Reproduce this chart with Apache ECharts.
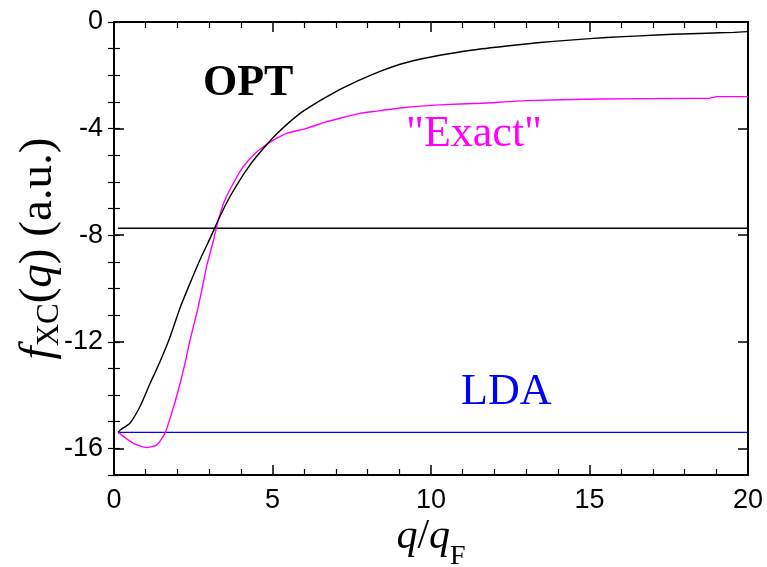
<!DOCTYPE html>
<html>
<head>
<meta charset="utf-8">
<script src="https://cdn.jsdelivr.net/npm/echarts@6/dist/echarts.min.js"></script>
<style>
  html, body { margin: 0; padding: 0; background: #fff; }
  #chart { width: 767px; height: 567px; }
</style>
</head>
<body>
<div id="chart"></div>
<script>
// OPT kernel f_xc(q)
const qOpt = [0.13, 0.21, 0.5, 0.82, 1.14, 1.45, 1.77, 2.08, 2.4, 2.71, 3.03, 3.34, 3.66, 3.97, 4.3, 4.71, 5.13, 5.87, 6.5, 7.02, 7.44, 7.76, 8.39, 9.23, 10.28, 11.33, 12.39, 13.44, 14.49, 15.54, 16.59, 17.64, 18.7, 19.54, 20];
const fOpt = [-15.4, -15.3, -15.06, -14.43, -13.56, -12.75, -11.81, -10.74, -9.8, -8.93, -8.12, -7.3, -6.55, -5.93, -5.35, -4.75, -4.2, -3.43, -2.95, -2.6, -2.35, -2.17, -1.85, -1.52, -1.25, -1.05, -0.9, -0.77, -0.67, -0.58, -0.52, -0.46, -0.42, -0.39, -0.36];

// "Exact" kernel f_xc(q)
const qExact = [0.13, 0.61, 1.03, 1.35, 1.61, 1.82, 2.03, 2.24, 2.4, 2.61, 2.77, 2.92, 3.14, 3.29, 3.5, 3.82, 4.08, 4.4, 4.71, 5.03, 5.45, 6.08, 6.71, 7.13, 7.76, 8.18, 9.23, 10.28, 11.55, 13.02, 15.23, 18.8, 19.01, 20];
const fExact = [-15.4, -15.81, -15.97, -15.87, -15.43, -14.68, -13.81, -12.81, -11.93, -10.93, -10.06, -9.18, -8.18, -7.43, -6.68, -5.93, -5.43, -4.99, -4.68, -4.43, -4.18, -3.99, -3.74, -3.61, -3.43, -3.36, -3.2, -3.11, -3.05, -2.95, -2.89, -2.86, -2.8, -2.8];

// constant levels: LDA and the black reference line
const qFlat = [0.13, 20];
const fLda = -15.4;
const fRef = -7.74;

// axis ticks
const xMajor = [0, 5, 10, 15, 20];
const yMajor = [-16, -12, -8, -4, 0];

const zip = (xs, ys) => xs.map((x, i) => [x, ys[i]]);
const flat = (xs, y) => xs.map(x => [x, y]);

const serif = 'Liberation Serif';
const sans = 'Liberation Sans';

// rich styles for axis names; the subscript sits in a taller line box so its
// centre falls `drop` pixels below the centre of the main glyphs
function nameRich(size, sub, drop) {
  return {
    i: { fontFamily: serif, fontStyle: 'italic', fontSize: size, lineHeight: size, verticalAlign: 'top', color: '#000' },
    n: { fontFamily: serif, fontSize: size, lineHeight: size, verticalAlign: 'top', color: '#000' },
    s: { fontFamily: serif, fontSize: sub, lineHeight: size + 2 * drop, verticalAlign: 'middle', color: '#000' }
  };
}

const frameLine = { show: true, onZero: false, lineStyle: { color: '#000', width: 2 } };
const majorTick = { show: true, inside: true, length: 10, lineStyle: { color: '#000', width: 1.5 } };
const minorTickStyle = { color: '#000', width: 1.2 };

const chart = echarts.init(document.getElementById('chart'), null, { renderer: 'canvas' });

chart.setOption({
  animation: false,
  backgroundColor: '#fff',
  grid: { left: 114, right: 19, top: 22, bottom: 92, containLabel: false, outerBoundsMode: 'none' },
  xAxis: [
    {
      type: 'value', position: 'bottom', min: 0, max: 20, interval: 5,
      axisLine: frameLine,
      axisTick: majorTick,
      minorTick: { show: true, splitNumber: 5, length: 6, lineStyle: minorTickStyle },
      axisLabel: { fontFamily: sans, fontSize: 27, color: '#000', margin: 12 },
      splitLine: { show: false },
      name: '{i|q}{n|/}{i|q}{s|F}',
      nameLocation: 'middle',
      nameGap: 41,
      nameMoveOverlap: false,
      nameTextStyle: { rich: nameRich(42, 28, 20) }
    },
    {
      type: 'value', position: 'top', min: 0, max: 20, interval: 5,
      axisLine: frameLine,
      axisTick: majorTick,
      minorTick: { show: true, splitNumber: 5, length: 6, lineStyle: minorTickStyle },
      axisLabel: { show: false },
      splitLine: { show: false }
    }
  ],
  yAxis: [
    {
      type: 'value', position: 'left', min: -17, max: 0,
      axisLine: frameLine,
      axisTick: Object.assign({}, majorTick, { customValues: yMajor }),
      axisLabel: { customValues: yMajor, fontFamily: sans, fontSize: 27, color: '#000', margin: 11 },
      splitLine: { show: false },
      name: '{i|f}{s|XC}{n|(}{i|q}{n|) (a.u.)}',
      nameLocation: 'middle',
      nameRotate: 90,
      nameGap: 30,
      nameMoveOverlap: false,
      nameTextStyle: { rich: nameRich(47, 31, 11) }
    },
    {
      type: 'value', position: 'left', min: -17, max: 0, interval: 1,
      axisLine: { show: false },
      axisTick: { show: true, inside: true, length: 6, lineStyle: minorTickStyle },
      axisLabel: { show: false },
      splitLine: { show: false }
    },
    {
      type: 'value', position: 'right', min: -17, max: 0,
      axisLine: frameLine,
      axisTick: Object.assign({}, majorTick, { customValues: yMajor }),
      axisLabel: { show: false },
      splitLine: { show: false }
    },
    {
      type: 'value', position: 'right', min: -17, max: 0, interval: 1,
      axisLine: { show: false },
      axisTick: { show: true, inside: true, length: 6, lineStyle: minorTickStyle },
      axisLabel: { show: false },
      splitLine: { show: false }
    }
  ],
  series: [
    {
      name: 'LDA', type: 'line', xAxisIndex: 0, yAxisIndex: 0,
      data: flat(qFlat, fLda), symbol: 'none',
      lineStyle: { color: '#0000ff', width: 1.4 }
    },
    {
      name: 'ref', type: 'line', xAxisIndex: 0, yAxisIndex: 0,
      data: flat(qFlat, fRef), symbol: 'none',
      lineStyle: { color: '#000', width: 1.4 }
    },
    {
      name: 'Exact', type: 'line', xAxisIndex: 0, yAxisIndex: 0,
      data: zip(qExact, fExact), symbol: 'none', smooth: 0.2,
      lineStyle: { color: '#ff00ff', width: 1.4 }
    },
    {
      name: 'OPT', type: 'line', xAxisIndex: 0, yAxisIndex: 0,
      data: zip(qOpt, fOpt), symbol: 'none', smooth: 0.2,
      lineStyle: { color: '#000', width: 1.4 }
    }
  ],
  graphic: [
    {
      type: 'text', left: 203, top: 62,
      style: { text: 'OPT', fontFamily: serif, fontWeight: 'bold', fontSize: 44, fill: '#000' }
    },
    {
      type: 'text', left: 406, top: 112,
      style: { text: '"Exact"', fontFamily: serif, fontSize: 44, fill: '#ff00ff' }
    },
    {
      type: 'text', left: 461, top: 370,
      style: { text: 'LDA', fontFamily: serif, fontSize: 44, fill: '#0000ff' }
    }
  ]
});
</script>
</body>
</html>
